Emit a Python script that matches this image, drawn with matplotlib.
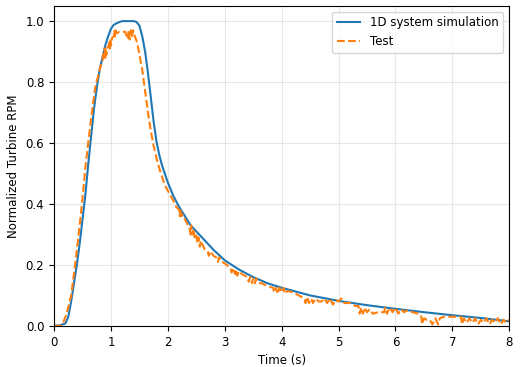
import matplotlib
matplotlib.use("Agg")
import matplotlib.pyplot as plt

# 1D simulation
sim_t = [0, 0.1, 0.2, 0.25, 0.3, 0.35, 0.4, 0.45, 0.5, 0.55, 0.6, 0.65, 0.7, 0.75,
         0.8, 0.85, 0.9, 0.95, 1.0, 1.05, 1.1, 1.15, 1.2, 1.3, 1.4, 1.45, 1.5, 1.55,
         1.6, 1.65, 1.7, 1.75, 1.8, 1.85, 1.9, 2.0, 2.1, 2.2, 2.4, 2.6, 2.8, 3.0, 3.25,
         3.5, 3.75, 4.0, 4.5, 5.0, 5.5, 6.0, 6.5, 7.0, 7.5, 8.0]
sim_y = [0, 0.002, 0.008, 0.03, 0.08, 0.14, 0.2, 0.27, 0.35, 0.43, 0.53, 0.62, 0.71, 0.78,
         0.84, 0.88, 0.92, 0.95, 0.975, 0.988, 0.993, 0.997, 1.0, 1.0, 1.0, 0.997, 0.985, 0.95,
         0.9, 0.83, 0.75, 0.67, 0.605, 0.56, 0.525, 0.47, 0.425, 0.39, 0.33, 0.29, 0.25, 0.215, 0.185,
         0.16, 0.14, 0.125, 0.1, 0.082, 0.068, 0.056, 0.045, 0.035, 0.026, 0.015]

# measured test data (quantised, noisy)
test_t = [0, 0.1, 0.15, 0.18, 0.22, 0.3, 0.37, 0.45, 0.5, 0.55, 0.6, 0.65, 0.72, 0.8, 0.85,
          0.87, 0.88, 0.89, 0.9, 0.91, 0.92, 0.93, 0.96, 0.97, 0.98, 0.99, 1.0, 1.02,
          1.05, 1.06, 1.07, 1.08, 1.1, 1.15, 1.2, 1.25, 1.3, 1.31, 1.33, 1.35, 1.37, 1.39,
          1.42, 1.46, 1.49, 1.52, 1.55, 1.6, 1.65, 1.7, 1.75, 1.8, 1.86, 1.95, 2.07, 2.15,
          2.2, 2.21, 2.22, 2.24, 2.26, 2.3, 2.35, 2.38, 2.4, 2.41, 2.43, 2.45, 2.47, 2.5,
          2.52, 2.54, 2.56, 2.58, 2.6, 2.65, 2.7, 2.72, 2.75, 2.8, 2.85, 2.88, 2.9, 2.95,
          3.0, 3.1, 3.12, 3.15, 3.18, 3.2, 3.22, 3.25, 3.3, 3.4, 3.42, 3.45, 3.48, 3.5,
          3.53, 3.55, 3.6, 3.65, 3.75, 3.85, 3.87, 3.9, 3.93, 3.96, 4.0, 4.03, 4.06, 4.1,
          4.2, 4.3, 4.4, 4.42, 4.45, 4.48, 4.52, 4.55, 4.6, 4.65, 4.7, 4.75, 4.8, 4.85,
          4.9, 4.95, 5.0, 5.05, 5.1, 5.2, 5.3, 5.35, 5.37, 5.4, 5.43, 5.46, 5.5, 5.55,
          5.6, 5.7, 5.8, 5.82, 5.85, 5.9, 5.95, 6.0, 6.05, 6.1, 6.15, 6.2, 6.3, 6.4,
          6.45, 6.47, 6.5, 6.55, 6.6, 6.65, 6.7, 6.75, 6.78, 6.85, 7.0, 7.15, 7.17, 7.2,
          7.25, 7.3, 7.35, 7.4, 7.45, 7.5, 7.55, 7.6, 7.65, 7.7, 7.75, 7.8, 7.85, 7.9,
          7.95, 8.0]
test_y = [0, 0, 0.005, 0.02, 0.04, 0.1, 0.2, 0.33, 0.42, 0.52, 0.6, 0.68, 0.78, 0.84, 0.87,
          0.90, 0.88, 0.91, 0.88, 0.91, 0.89, 0.91, 0.92, 0.93, 0.91, 0.94, 0.92, 0.945,
          0.95, 0.97, 0.95, 0.97, 0.96, 0.965, 0.965, 0.965, 0.94, 0.97, 0.94, 0.97, 0.95, 0.97,
          0.95, 0.93, 0.9, 0.87, 0.84, 0.77, 0.7, 0.64, 0.59, 0.55, 0.51, 0.46, 0.42, 0.39,
          0.38, 0.36, 0.385, 0.36, 0.365, 0.35, 0.33, 0.32, 0.3, 0.33, 0.3, 0.32, 0.29, 0.3,
          0.27, 0.29, 0.26, 0.28, 0.27, 0.25, 0.245, 0.23, 0.245, 0.23, 0.225, 0.21, 0.225, 0.21,
          0.205, 0.19, 0.175, 0.19, 0.17, 0.185, 0.165, 0.18, 0.17, 0.16, 0.145, 0.16, 0.14, 0.155,
          0.14, 0.155, 0.14, 0.14, 0.13, 0.125, 0.11, 0.125, 0.105, 0.125, 0.11, 0.125, 0.105, 0.115,
          0.11, 0.1, 0.09, 0.075, 0.095, 0.075, 0.09, 0.075, 0.09, 0.08, 0.08, 0.09, 0.075, 0.09,
          0.07, 0.085, 0.08, 0.09, 0.075, 0.075, 0.065, 0.065, 0.04, 0.06, 0.04, 0.06, 0.045, 0.055,
          0.04, 0.045, 0.045, 0.06, 0.04, 0.06, 0.045, 0.06, 0.04, 0.055, 0.045, 0.05, 0.045, 0.04,
          0.035, 0.005, 0.025, 0.02, 0.02, 0.005, 0.025, 0.005, 0.025, 0.03, 0.03, 0.03, 0.005, 0.025,
          0.01, 0.025, 0.01, 0.025, 0.005, 0.02, 0.01, 0.025, 0.005, 0.02, 0.01, 0.025, 0.005, 0.02,
          0.01, 0.02]

fig = plt.figure(figsize=(5.25, 3.67), dpi=100)
ax = fig.add_axes([0.103, 0.112, 0.867, 0.872])
ax.plot(sim_t, sim_y, color="#1f77b4", lw=1.5, label="1D system simulation")
ax.plot(test_t, test_y, color="#ff7f0e", lw=1.5, ls="--", label="Test")
ax.set_xlim(0, 8)
ax.set_ylim(0, 1.05)
ax.set_xlabel("Time (s)", fontsize=8.5)
ax.set_ylabel("Normalized Turbine RPM", fontsize=8.5)
ax.tick_params(labelsize=8.5)
ax.grid(True, color="#dddddd", lw=0.8, alpha=0.7)
ax.legend(loc="upper right", fontsize=8.5)
fig.savefig("out.png", dpi=100)
